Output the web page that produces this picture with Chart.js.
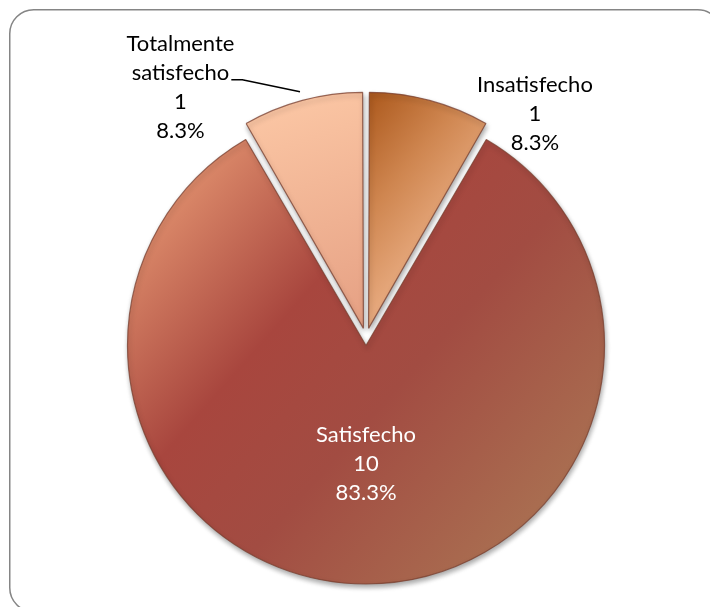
<!DOCTYPE html>
<html>
<head>
<meta charset="utf-8">
<script src="https://cdn.jsdelivr.net/npm/chart.js@4.4.1/dist/chart.umd.min.js"></script>
<style>
  html, body { margin: 0; padding: 0; background: #fff; overflow: hidden; }
  canvas { display: block; }
</style>
</head>
<body>
<canvas id="myChart" width="710" height="607"></canvas>
<script>
  // Datos
  const categorias = ['Insatisfecho', 'Satisfecho', 'Totalmente satisfecho'];
  const valores = [1, 10, 1];

  // Etiquetas: lineas de texto por sector
  const lineasEtiqueta = [
    ['Insatisfecho'],
    ['Satisfecho'],
    ['Totalmente', 'satisfecho']
  ];

  // posicion de cada etiqueta (angulo desde arriba, distancia en radios)
  const posEtiqueta = [
    { ang: 37, dist: 1.215, color: '#000', linea: false },
    { ang: 180, dist: 0.545, color: '#fff', linea: false },
    { ang: -36.5, dist: 1.35, color: '#000', linea: true }
  ];

  const RADIO = 231;
  const total = valores.reduce((a, b) => a + b, 0);

  function centro(chart) {
    const a = chart.chartArea;
    return { x: (a.left + a.right) / 2, y: (a.top + a.bottom) / 2 };
  }

  function colorSector(context) {
    const chart = context.chart;
    if (!chart.chartArea) return '#a5443d';
    const c = centro(chart);
    const ctx = chart.ctx;
    const R = RADIO;
    let g;
    if (context.dataIndex === 0) {
      g = ctx.createLinearGradient(c.x, c.y - R, c.x + 0.55 * R, c.y - 0.55 * R);
      g.addColorStop(0, '#ad5a1e');
      g.addColorStop(0.45, '#cf8650');
      g.addColorStop(1, '#eeb48c');
    } else if (context.dataIndex === 1) {
      g = ctx.createLinearGradient(c.x - 0.9 * R, c.y - 0.7 * R, c.x + 0.8 * R, c.y + 0.8 * R);
      g.addColorStop(0, '#e2926f');
      g.addColorStop(0.35, '#a8463e');
      g.addColorStop(0.6, '#a24c42');
      g.addColorStop(1, '#aa7152');
    } else {
      g = ctx.createLinearGradient(c.x - 0.3 * R, c.y - R, c.x, c.y - 0.1 * R);
      g.addColorStop(0, '#fbc6a4');
      g.addColorStop(1, '#e7a386');
    }
    return g;
  }

  // marco redondeado del grafico (sale por la derecha y abajo)
  const marco = {
    id: 'marco',
    beforeDraw(chart) {
      const ctx = chart.ctx;
      ctx.save();
      ctx.strokeStyle = '#858585';
      ctx.lineWidth = 1.5;
      ctx.beginPath();
      ctx.roundRect(9.75, 9.75, 712, 602, 24);
      ctx.stroke();
      ctx.restore();
    }
  };

  // sombra suave bajo los sectores
  const sombra = {
    id: 'sombra',
    beforeDatasetsDraw(chart) {
      const ctx = chart.ctx;
      ctx.save();
      ctx.shadowColor = 'rgba(0,0,0,0.35)';
      ctx.shadowBlur = 5;
      ctx.shadowOffsetX = 1;
      ctx.shadowOffsetY = 3;
    },
    afterDatasetsDraw(chart) {
      chart.ctx.restore();
    }
  };

  // etiquetas de datos dibujadas a mano
  const etiquetas = {
    id: 'etiquetas',
    afterDatasetsDraw(chart) {
      const ctx = chart.ctx;
      const meta = chart.getDatasetMeta(0);
      const alto = 29;
      ctx.save();
      ctx.font = '22px Lato';
      ctx.textAlign = 'center';
      ctx.textBaseline = 'middle';
      meta.data.forEach((arc, i) => {
        const p = arc.getProps(['x', 'y', 'startAngle', 'endAngle', 'outerRadius', 'circumference']);
        const opt = posEtiqueta[i];
        const a = (opt.ang - 90) * Math.PI / 180;
        const cx = p.x + Math.cos(a) * opt.dist * p.outerRadius;
        const cy = p.y + Math.sin(a) * opt.dist * p.outerRadius;
        const pct = (valores[i] / total * 100).toFixed(1) + '%';
        const lineas = lineasEtiqueta[i].concat([String(valores[i]), pct]);
        const y0 = cy - (lineas.length - 1) * alto / 2;
        ctx.fillStyle = opt.color;
        lineas.forEach((t, k) => ctx.fillText(t, cx, y0 + k * alto));

        if (opt.linea) {
          // linea guia hasta el borde del sector
          const off = (arc.options.offset || 0) / 4;
          const fix = 1 - Math.sin(Math.min(Math.PI, p.circumference));
          const mid = (p.startAngle + p.endAngle) / 2;
          const d = off * (1 + fix);
          const r = d + p.outerRadius + off - 1;
          const ex = p.x + Math.cos(mid) * r;
          const ey = p.y + Math.sin(mid) * r;
          const w = ctx.measureText(lineas[1]).width;
          const sx = cx + w / 2 + 2;
          const sy = y0 + alto + 7;
          ctx.strokeStyle = '#000';
          ctx.lineWidth = 1.5;
          ctx.beginPath();
          ctx.moveTo(sx, sy);
          ctx.lineTo(sx + 11, sy);
          ctx.lineTo(ex, ey);
          ctx.stroke();
        }
      });
      ctx.restore();
    }
  };

  var ctx = document.getElementById('myChart');
  var myChart = new Chart(ctx, {
    type: 'pie',
    data: {
      labels: categorias,
      datasets: [{
        label: 'Satisfaccion',
        data: valores,
        backgroundColor: colorSector,
        borderColor: 'rgba(120,62,45,0.75)',
        borderWidth: 1.2,
        offset: [40, 30, 40]
      }]
    },
    options: {
      responsive: false,
      animation: false,
      radius: RADIO,
      layout: { padding: { left: 22, right: 0, top: 69, bottom: 0 } },
      plugins: {
        legend: { display: false },
        tooltip: { enabled: false }
      }
    },
    plugins: [marco, sombra, etiquetas]
  });
</script>
</body>
</html>
